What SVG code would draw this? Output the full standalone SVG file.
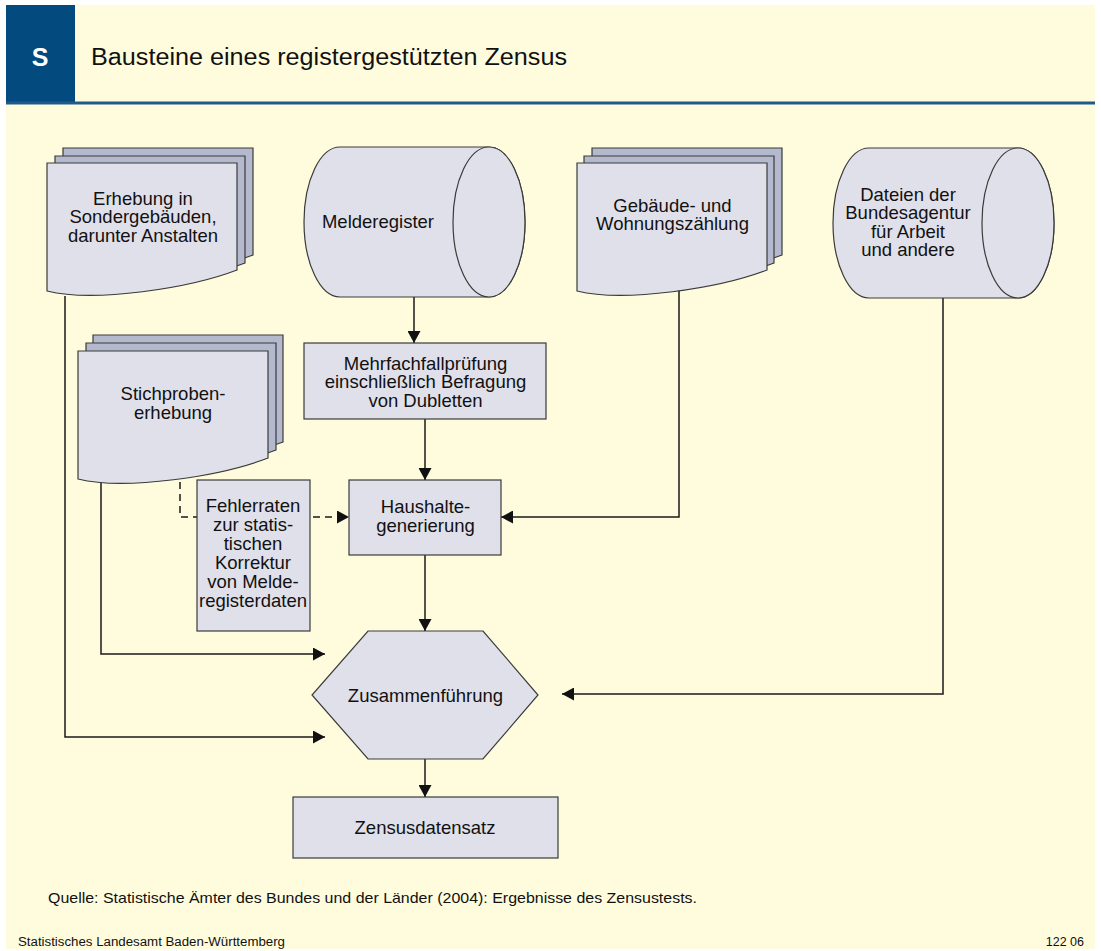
<svg xmlns="http://www.w3.org/2000/svg" width="1101" height="951" viewBox="0 0 1101 951">
<style>
.node{fill:#E0E0EA;stroke:#3A3A3A;stroke-width:1.2}
.back{fill:#B5B9CD;stroke:#3A3A3A;stroke-width:1.2}
.lbl{font-family:"Liberation Sans",Arial,sans-serif;font-size:18.5px;fill:#111;text-anchor:middle}
.conn{fill:none;stroke:#1A1A1A;stroke-width:1.5}
.dash{stroke-dasharray:7,5}
.foot{font-family:"Liberation Sans",Arial,sans-serif;fill:#111}
</style>
<defs>
<marker id="ah" markerWidth="13" markerHeight="13" refX="12" refY="6.5" orient="auto" markerUnits="userSpaceOnUse">
<path d="M0,0 L12,6.5 L0,13 Z" fill="#111"/>
</marker>
<path id="docShape" d="M0,0 H190 V107 C143,125 48,140 0,128 Z"/>
<path id="cylBody" d="M36,0 H185 A36,75 0 0 1 185,150 H36 A36,75 0 0 1 36,0 Z"/>
</defs>

<rect x="0" y="0" width="1101" height="951" fill="#FFFFFF"/>
<rect x="6" y="5" width="1089" height="944" fill="#FFFCDE"/>

<g id="header">
<rect x="6" y="5" width="69" height="97" fill="#034B7E"/>
<rect x="6" y="101.5" width="1089" height="3" fill="#1E5B8C"/>
<text x="40" y="66" font-family="Liberation Sans,Arial,sans-serif" font-size="25" font-weight="bold" fill="#FFFFFF" text-anchor="middle">S</text>
<text x="91" y="65" font-family="Liberation Sans,Arial,sans-serif" font-size="23" fill="#111" textLength="476" lengthAdjust="spacingAndGlyphs">Bausteine eines registergestützten Zensus</text>
</g>

<g id="connectors">
<path class="conn" d="M414,297 V343" marker-end="url(#ah)"/>
<path class="conn" d="M425,419 V480" marker-end="url(#ah)"/>
<path class="conn" d="M679,285 V517 H501" marker-end="url(#ah)"/>
<path class="conn dash" d="M180,470 V517 H349" marker-end="url(#ah)"/>
<path class="conn" d="M425,555 V631" marker-end="url(#ah)"/>
<path class="conn" d="M101,483 V654 H325" marker-end="url(#ah)"/>
<path class="conn" d="M65,296 V737 H325" marker-end="url(#ah)"/>
<path class="conn" d="M943,297 V694 H562" marker-end="url(#ah)"/>
<path class="conn" d="M425,759 V797" marker-end="url(#ah)"/>
</g>

<g id="sondergebaeude">
<use href="#docShape" class="back" transform="translate(63,148)"/>
<use href="#docShape" class="back" transform="translate(55,156)"/>
<use href="#docShape" class="node" transform="translate(47,163)"/>
<text class="lbl" x="143" y="204.5">Erhebung in</text>
<text class="lbl" x="143" y="223">Sondergebäuden,</text>
<text class="lbl" x="143" y="241.5">darunter Anstalten</text>
</g>

<g id="melderegister">
<use href="#cylBody" class="node" transform="translate(304,147)"/>
<ellipse class="node" cx="489" cy="222" rx="36" ry="75"/>
<text class="lbl" x="378" y="227.5">Melderegister</text>
</g>

<g id="gebaeude">
<use href="#docShape" class="back" transform="translate(592,148)"/>
<use href="#docShape" class="back" transform="translate(584,156)"/>
<use href="#docShape" class="node" transform="translate(577,163)"/>
<text class="lbl" x="672.5" y="211.5">Gebäude- und</text>
<text class="lbl" x="672.5" y="230">Wohnungszählung</text>
</g>

<g id="bundesagentur">
<use href="#cylBody" class="node" transform="translate(833,148)"/>
<ellipse class="node" cx="1018" cy="223" rx="36" ry="75"/>
<text class="lbl" x="908" y="200.5">Dateien der</text>
<text class="lbl" x="908" y="219">Bundesagentur</text>
<text class="lbl" x="908" y="237.5">für Arbeit</text>
<text class="lbl" x="908" y="256">und andere</text>
</g>

<g id="mehrfachfall">
<rect class="node" x="304" y="343" width="242" height="76"/>
<text class="lbl" x="425.5" y="369.5">Mehrfachfallprüfung</text>
<text class="lbl" x="425.5" y="388">einschließlich Befragung</text>
<text class="lbl" x="425.5" y="406.5">von Dubletten</text>
</g>

<g id="stichprobe">
<use href="#docShape" class="back" transform="translate(93,335)"/>
<use href="#docShape" class="back" transform="translate(86,343)"/>
<use href="#docShape" class="node" transform="translate(78,351)"/>
<text class="lbl" x="173" y="400">Stichproben-</text>
<text class="lbl" x="173" y="418.5">erhebung</text>
</g>

<g id="fehlerraten">
<rect class="node" x="197" y="480" width="113" height="151"/>
<text class="lbl" x="253" y="511.5">Fehlerraten</text>
<text class="lbl" x="253" y="530.5">zur statis-</text>
<text class="lbl" x="253" y="549.5">tischen</text>
<text class="lbl" x="253" y="568.5">Korrektur</text>
<text class="lbl" x="253" y="587.5">von Melde-</text>
<text class="lbl" x="253" y="606.5">registerdaten</text>
</g>

<g id="haushalte">
<rect class="node" x="349" y="480" width="152" height="75"/>
<text class="lbl" x="425.5" y="513">Haushalte-</text>
<text class="lbl" x="425.5" y="532">generierung</text>
</g>

<g id="zusammenfuehrung">
<polygon class="node" points="368,631 483,631 538,695 483,759 368,759 312,695"/>
<text class="lbl" x="425.5" y="701.5">Zusammenführung</text>
</g>

<g id="zensusdatensatz">
<rect class="node" x="293" y="797" width="265" height="61"/>
<text class="lbl" x="425" y="834">Zensusdatensatz</text>
</g>

<g id="footer">
<text class="foot" x="48" y="903" font-size="14.5" textLength="649" lengthAdjust="spacingAndGlyphs">Quelle: Statistische Ämter des Bundes und der Länder (2004): Ergebnisse des Zensustests.</text>
<text class="foot" x="18" y="946" font-size="12.5" textLength="267" lengthAdjust="spacingAndGlyphs">Statistisches Landesamt Baden-Württemberg</text>
<text class="foot" x="1084" y="946" font-size="12.5" text-anchor="end">122 06</text>
</g>
</svg>
